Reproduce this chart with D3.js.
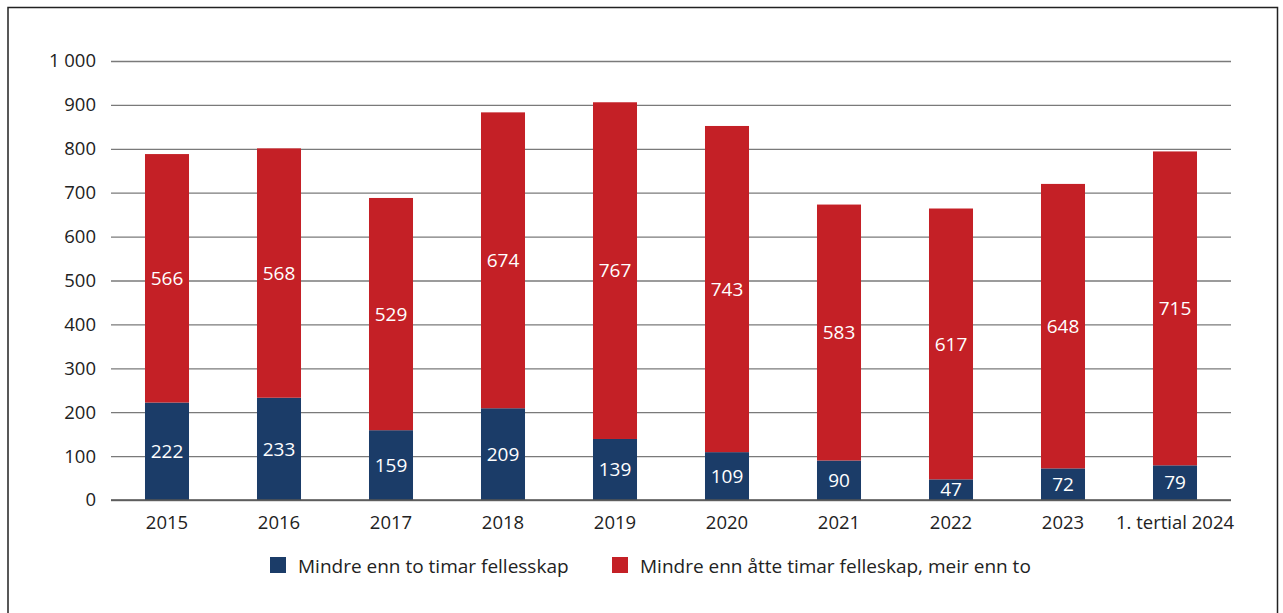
<!DOCTYPE html>
<html><head><meta charset="utf-8">
<script src="https://cdn.jsdelivr.net/npm/d3@7"></script>
<style>body{margin:0;background:#fff}svg{display:block}</style>
</head><body><svg id="c" width="1283" height="613"></svg>
<script>
const categories = ["2015","2016","2017","2018","2019","2020","2021","2022","2023","1. tertial 2024"];
const blueValues = [222,233,159,209,139,109,90,47,72,79];
const redValues = [566,568,529,674,767,743,583,617,648,715];
const seriesNames = ["Mindre enn to timar fellesskap","Mindre enn åtte timar felleskap, meir enn to"];
const yTicks = [0,100,200,300,400,500,600,700,800,900,1000];

const colors = ["#1b3c68","#c42026"];
const font = "'Open Sans', sans-serif";
const svg = d3.select("#c");
// frame
svg.append("path").attr("d","M8,613 V7.5 H1277.5 V613").attr("fill","none").attr("stroke","#222").attr("stroke-width",1.5);

const pLeft = 111, pRight = 1231, pTop = 61, pBottom = 500;
const x = d3.scaleBand().domain(categories).range([pLeft,pRight]).paddingInner(0.607).paddingOuter(0.3035);
const y = d3.scaleLinear().domain([0,1000]).range([pBottom,pTop]);

const fmt = v => v >= 1000 ? d3.format(",")(v).replace(",", " ") : String(v);
const yAxis = svg.append("g").attr("transform",`translate(${pLeft},0)`)
  .call(d3.axisLeft(y).tickValues(yTicks).tickSize(-(pRight-pLeft)).tickPadding(15).tickFormat(fmt));
yAxis.select(".domain").remove();
yAxis.selectAll(".tick line").attr("stroke","#7a7a7a").attr("stroke-width",1.3);
yAxis.selectAll(".tick text").attr("font-family",font).attr("font-size",18.5).attr("fill","#222");

const stack = categories.map((c,i)=>({c, b:blueValues[i], r:redValues[i]}));
const g = svg.append("g");
g.selectAll("rect.b").data(stack).join("rect").attr("class","b").attr("x",d=>x(d.c)).attr("width",x.bandwidth())
  .attr("y",d=>y(d.b)).attr("height",d=>y(0)-y(d.b)).attr("fill",colors[0]);
g.selectAll("rect.r").data(stack).join("rect").attr("class","r").attr("x",d=>x(d.c)).attr("width",x.bandwidth())
  .attr("y",d=>y(d.b+d.r)).attr("height",d=>y(d.b)-y(d.b+d.r)).attr("fill",colors[1]);

// baseline
svg.append("line").attr("x1",pLeft).attr("x2",pRight).attr("y1",y(0)).attr("y2",y(0)).attr("stroke","#555").attr("stroke-width",1.5);

g.selectAll("text.b").data(stack).join("text").attr("class","b").attr("x",d=>x(d.c)+x.bandwidth()/2).attr("y",d=>y(d.b/2))
  .attr("dy","0.35em").attr("text-anchor","middle").attr("fill","#fff").attr("font-family",font).attr("font-size",19).text(d=>d.b);
g.selectAll("text.r").data(stack).join("text").attr("class","r").attr("x",d=>x(d.c)+x.bandwidth()/2).attr("y",d=>y(d.b+d.r/2))
  .attr("dy","0.35em").attr("text-anchor","middle").attr("fill","#fff").attr("font-family",font).attr("font-size",19).text(d=>d.r);

const xAxis = svg.append("g").attr("transform",`translate(0,${pBottom})`).call(d3.axisBottom(x).tickSize(0).tickPadding(16));
xAxis.select(".domain").remove();
xAxis.selectAll(".tick text").attr("font-family",font).attr("font-size",18.5).attr("fill","#222");

// legend
const legX = [270, 612];
seriesNames.forEach((n,i)=>{
  svg.append("rect").attr("x",legX[i]).attr("y",557).attr("width",16).attr("height",16).attr("fill",colors[i]);
  svg.append("text").attr("x",legX[i]+28).attr("y",566).attr("dy","0.35em").attr("font-family",font).attr("font-size",19).attr("fill","#222").text(n);
});
</script></body></html>
